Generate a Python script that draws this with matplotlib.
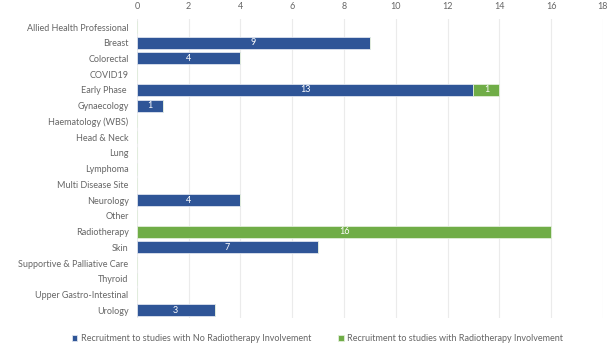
import matplotlib
matplotlib.use("Agg")
import matplotlib.pyplot as plt
import numpy as np

categories = ["Allied Health Professional", "Breast", "Colorectal", "COVID19", "Early Phase ",
              "Gynaecology", "Haematology (WBS)", "Head & Neck", "Lung", "Lymphoma",
              "Multi Disease Site", "Neurology", "Other", "Radiotherapy", "Skin",
              "Supportive & Palliative Care", "Thyroid", "Upper Gastro-Intestinal", "Urology"]
no_rt = [0, 9, 4, 0, 13, 1, 0, 0, 0, 0, 0, 4, 0, 0, 7, 0, 0, 0, 3]
with_rt = [0, 0, 0, 0, 1, 0, 0, 0, 0, 0, 0, 0, 0, 16, 0, 0, 0, 0, 0]
series_names = ["Recruitment to studies with No Radiotherapy Involvement",
                "Recruitment to studies with Radiotherapy Involvement"]
colors = ["#2F5597", "#70AD47"]
xticks = list(range(0, 19, 2))

plt.rcParams['font.family'] = ['Lato', 'DejaVu Sans']
fig = plt.figure(figsize=(6.14, 3.48), dpi=100)
ax = fig.add_axes([0.223, 0.086, 0.759, 0.859])

y = np.arange(len(categories))
no_rt_a = np.array(no_rt, dtype=float)
with_rt_a = np.array(with_rt, dtype=float)
b1 = ax.barh(y, no_rt_a, height=0.76, color=colors[0], edgecolor="#DDE3EE", linewidth=0.6,
             label=series_names[0], zorder=3)
b2 = ax.barh(y, with_rt_a, left=no_rt_a, height=0.76, color=colors[1], edgecolor="#E2EEDA",
             linewidth=0.6, label=series_names[1], zorder=3)

for bars, vals in ((b1, no_rt_a), (b2, with_rt_a)):
    for rect, v in zip(bars, vals):
        if v > 0:
            ax.text(rect.get_x() + rect.get_width() / 2, rect.get_y() + rect.get_height() / 2,
                    f"{int(v)}", ha="center", va="center", color="white", fontsize=6.5, zorder=4)

ax.set_xlim(0, 18)
ax.set_ylim(len(categories) - 0.5, -0.5)
ax.set_xticks(xticks)
ax.set_yticks(y)
ax.set_yticklabels(categories)
ax.xaxis.tick_top()
ax.tick_params(axis='both', length=0, labelsize=6.5, colors="#666666")
ax.tick_params(axis='x', pad=6)
ax.tick_params(axis='y', pad=6)
ax.grid(axis='x', color="#EBEBEB", linewidth=0.8, zorder=0)
for s in ax.spines.values():
    s.set_visible(False)

fig.legend(handles=[b1, b2], loc="lower center", bbox_to_anchor=(0.517, -0.01), ncol=2,
           frameon=False, fontsize=6.5, labelcolor="#666666", handlelength=0.6,
           handleheight=0.6, handletextpad=0.4, columnspacing=3.0)

fig.savefig("out.png", dpi=100)
